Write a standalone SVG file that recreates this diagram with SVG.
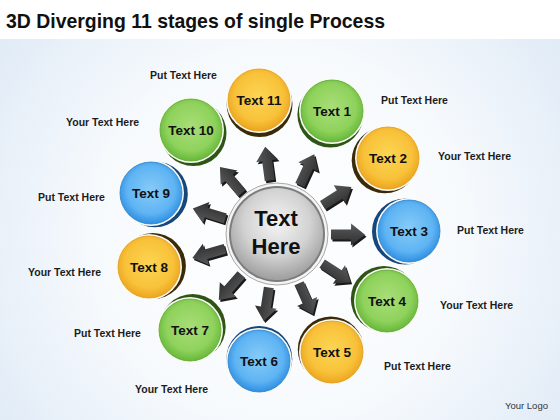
<svg xmlns="http://www.w3.org/2000/svg" xmlns:xlink="http://www.w3.org/1999/xlink" width="560" height="420" viewBox="0 0 560 420">
<defs>
<radialGradient id="bg" cx="280" cy="235" r="330" gradientUnits="userSpaceOnUse">
<stop offset="0" stop-color="#ffffff"/><stop offset="0.55" stop-color="#f7fafd"/><stop offset="1" stop-color="#e2ecf7"/>
</radialGradient>
<radialGradient id="gy" cx="50%" cy="45%" r="55%">
<stop offset="0" stop-color="#fcd553"/><stop offset="0.7" stop-color="#f8c23a"/><stop offset="1" stop-color="#eda51f"/>
</radialGradient>
<radialGradient id="gg" cx="50%" cy="45%" r="55%">
<stop offset="0" stop-color="#a9de79"/><stop offset="0.7" stop-color="#8fd25c"/><stop offset="1" stop-color="#66b83a"/>
</radialGradient>
<radialGradient id="gb" cx="50%" cy="45%" r="55%">
<stop offset="0" stop-color="#86cbf8"/><stop offset="0.7" stop-color="#5fb4f3"/><stop offset="1" stop-color="#2f8fe2"/>
</radialGradient>
<radialGradient id="gc" cx="50%" cy="38%" r="60%">
<stop offset="0" stop-color="#f4f4f4"/><stop offset="0.6" stop-color="#d2d2d2"/><stop offset="1" stop-color="#a2a2a2"/>
</radialGradient>
<linearGradient id="ga" x1="0" y1="0" x2="0" y2="1">
<stop offset="0" stop-color="#5a5a5a"/><stop offset="1" stop-color="#2e2e2e"/>
</linearGradient>
<path id="arr" d="M0,-5 L20,-5 L20,-11 L34,0 L20,11 L20,5 L0,5 Z"/>
</defs>
<style>
.title{font-family:"Liberation Sans",Arial,sans-serif;font-weight:bold;font-size:21px;fill:#111}
.lbl{font-family:"Liberation Sans",Arial,sans-serif;font-weight:bold;font-size:10.5px;fill:#1c1c1c}
.nt{font-family:"Liberation Sans",Arial,sans-serif;font-weight:bold;font-size:13.5px;fill:#111;text-anchor:middle}
.ct{font-family:"Liberation Sans",Arial,sans-serif;font-weight:bold;font-size:22px;fill:#111;text-anchor:middle}
.logo{font-family:"Liberation Sans",Arial,sans-serif;font-size:9.5px;fill:#333}
.shy{fill:#3b2a08}.shg{fill:#2f5516}.shb{fill:#15467c}
.rim{fill:#fbfbf2}
.y{fill:url(#gy);stroke:#e09a1c;stroke-width:0.8}
.g{fill:url(#gg);stroke:#5aa834;stroke-width:0.8}
.b{fill:url(#gb);stroke:#2a82d0;stroke-width:0.8}
.ash{fill:#1a1a1a}
.af{fill:url(#ga)}
</style>
<rect x="0" y="0" width="560" height="420" fill="#ffffff"/>
<rect x="0" y="39" width="560" height="381" fill="url(#bg)"/>
<text class="title" x="6" y="28" textLength="379" lengthAdjust="spacingAndGlyphs">3D Diverging 11 stages of single Process</text>

<g id="connectors">
<use xlink:href="#arr" class="ash" transform="translate(278.5,236) rotate(-97.7) translate(54,0)"/>
<use xlink:href="#arr" class="af" transform="translate(277,234) rotate(-97.7) translate(54,0)"/>
<use xlink:href="#arr" class="ash" transform="translate(278.5,236) rotate(-64.97) translate(54,0)"/>
<use xlink:href="#arr" class="af" transform="translate(277,234) rotate(-64.97) translate(54,0)"/>
<use xlink:href="#arr" class="ash" transform="translate(278.5,236) rotate(-32.25) translate(54,0)"/>
<use xlink:href="#arr" class="af" transform="translate(277,234) rotate(-32.25) translate(54,0)"/>
<use xlink:href="#arr" class="ash" transform="translate(278.5,236) rotate(0.48) translate(54,0)"/>
<use xlink:href="#arr" class="af" transform="translate(277,234) rotate(0.48) translate(54,0)"/>
<use xlink:href="#arr" class="ash" transform="translate(278.5,236) rotate(33.2) translate(54,0)"/>
<use xlink:href="#arr" class="af" transform="translate(277,234) rotate(33.2) translate(54,0)"/>
<use xlink:href="#arr" class="ash" transform="translate(278.5,236) rotate(65.94) translate(54,0)"/>
<use xlink:href="#arr" class="af" transform="translate(277,234) rotate(65.94) translate(54,0)"/>
<use xlink:href="#arr" class="ash" transform="translate(278.5,236) rotate(98.66) translate(54,0)"/>
<use xlink:href="#arr" class="af" transform="translate(277,234) rotate(98.66) translate(54,0)"/>
<use xlink:href="#arr" class="ash" transform="translate(278.5,236) rotate(131.39) translate(54,0)"/>
<use xlink:href="#arr" class="af" transform="translate(277,234) rotate(131.39) translate(54,0)"/>
<use xlink:href="#arr" class="ash" transform="translate(278.5,236) rotate(164.12) translate(54,0)"/>
<use xlink:href="#arr" class="af" transform="translate(277,234) rotate(164.12) translate(54,0)"/>
<use xlink:href="#arr" class="ash" transform="translate(278.5,236) rotate(196.85) translate(54,0)"/>
<use xlink:href="#arr" class="af" transform="translate(277,234) rotate(196.85) translate(54,0)"/>
<use xlink:href="#arr" class="ash" transform="translate(278.5,236) rotate(229.57) translate(54,0)"/>
<use xlink:href="#arr" class="af" transform="translate(277,234) rotate(229.57) translate(54,0)"/>
</g>

<g id="center">
<circle cx="277" cy="234" r="51" fill="#f4f4f4" stroke="#a8a8a8" stroke-width="1"/>
<circle cx="277" cy="234" r="48" fill="#7d7d7d"/>
<circle cx="277" cy="234" r="46" fill="url(#gc)"/>
<text class="ct" x="276" y="226">Text</text>
<text class="ct" x="276" y="254">Here</text>
</g>

<g id="n11">
<circle class="shy" cx="259.5" cy="104" r="33"/>
<circle class="rim" cx="259" cy="100" r="33"/>
<circle class="y" cx="259" cy="100" r="31"/>
<text class="nt" x="259" y="105">Text 11</text>
</g>
<g id="n1">
<circle class="shg" cx="330.4" cy="114.6" r="33"/>
<circle class="rim" cx="332" cy="111" r="33"/>
<circle class="g" cx="332" cy="111" r="31"/>
<text class="nt" x="332" y="116">Text 1</text>
</g>
<g id="n2">
<circle class="shy" cx="384.7" cy="160.3" r="33"/>
<circle class="rim" cx="388" cy="158" r="33"/>
<circle class="y" cx="388" cy="158" r="31"/>
<text class="nt" x="388" y="163">Text 2</text>
</g>
<g id="n3">
<circle class="shb" cx="405" cy="231.5" r="33"/>
<circle class="rim" cx="409" cy="231" r="33"/>
<circle class="b" cx="409" cy="231" r="31"/>
<text class="nt" x="409" y="236">Text 3</text>
</g>
<g id="n4">
<circle class="shg" cx="383.8" cy="299" r="33"/>
<circle class="rim" cx="387" cy="301" r="33"/>
<circle class="g" cx="387" cy="301" r="31"/>
<text class="nt" x="387" y="306">Text 4</text>
</g>
<g id="n5">
<circle class="shy" cx="330.8" cy="349.5" r="33"/>
<circle class="rim" cx="332" cy="352" r="33"/>
<circle class="y" cx="332" cy="352" r="31"/>
<text class="nt" x="332" y="357">Text 5</text>
</g>
<g id="n6">
<circle class="shb" cx="259.3" cy="359" r="33"/>
<circle class="rim" cx="259" cy="361" r="33"/>
<circle class="b" cx="259" cy="361" r="31"/>
<text class="nt" x="259" y="366">Text 6</text>
</g>
<g id="n7">
<circle class="shg" cx="192.7" cy="327" r="33"/>
<circle class="rim" cx="190" cy="330" r="33"/>
<circle class="g" cx="190" cy="330" r="31"/>
<text class="nt" x="190" y="335">Text 7</text>
</g>
<g id="n8">
<circle class="shy" cx="152.9" cy="266" r="33"/>
<circle class="rim" cx="149" cy="267" r="33"/>
<circle class="y" cx="149" cy="267" r="31"/>
<text class="nt" x="149" y="272">Text 8</text>
</g>
<g id="n9">
<circle class="shb" cx="154.8" cy="194.2" r="33"/>
<circle class="rim" cx="151" cy="193" r="33"/>
<circle class="b" cx="151" cy="193" r="31"/>
<text class="nt" x="151" y="198">Text 9</text>
</g>
<g id="n10">
<circle class="shg" cx="193.5" cy="133.1" r="33"/>
<circle class="rim" cx="191" cy="130" r="33"/>
<circle class="g" cx="191" cy="130" r="31"/>
<text class="nt" x="191" y="135">Text 10</text>
</g>

<g id="labels">
<text class="lbl" x="150" y="79">Put Text Here</text>
<text class="lbl" x="381" y="104">Put Text Here</text>
<text class="lbl" x="438" y="160">Your Text Here</text>
<text class="lbl" x="457" y="234">Put Text Here</text>
<text class="lbl" x="440" y="309">Your Text Here</text>
<text class="lbl" x="384" y="370">Put Text Here</text>
<text class="lbl" x="135" y="393">Your Text Here</text>
<text class="lbl" x="74" y="337">Put Text Here</text>
<text class="lbl" x="28" y="276">Your Text Here</text>
<text class="lbl" x="38" y="201">Put Text Here</text>
<text class="lbl" x="66" y="126">Your Text Here</text>
</g>
<text class="logo" x="505" y="409">Your Logo</text>
</svg>
